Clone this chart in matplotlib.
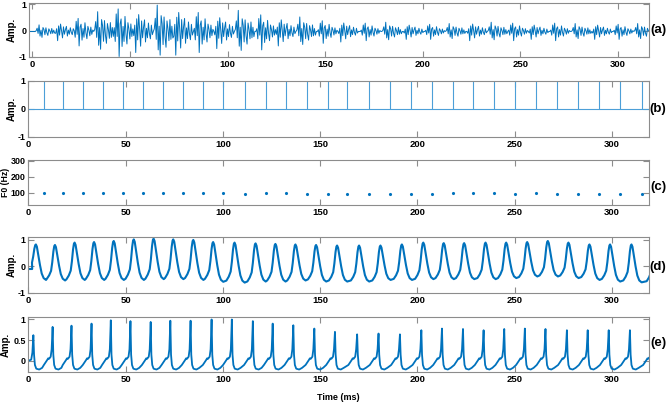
import numpy as np
import matplotlib.pyplot as plt
from matplotlib.ticker import FormatStrFormatter

plt.rcParams['font.family'] = ['Liberation Sans', 'DejaVu Sans']
plt.rcParams['font.weight'] = 'bold'
plt.rcParams['axes.unicode_minus'] = False

BLUE = '#0072BD'

# (b)/(c) pulse instants (ms) and F0 per pulse (Hz)
pulse_t = [8.0, 18.0, 28.3, 38.4, 48.5, 58.8, 69.3, 79.5, 89.8, 100.3,
           111.4, 122.0, 132.5, 143.1, 154.1, 164.0, 175.0, 185.8, 196.7, 207.4,
           218.2, 228.8, 239.5, 250.1, 260.9, 271.5, 282.3, 293.1, 304.1, 315.3]
f0_hz = [100, 98, 98, 98, 97, 97, 98, 95, 95, 95,
         93, 95, 97, 92, 93, 90, 92, 93, 93, 93,
         97, 95, 97, 93, 95, 93, 92, 93, 90, 90]

# (d) flow peaks: time, peak amp, following trough amp
d_peak_t = [3.9, 13.7, 23.8, 33.8, 43.9, 54.2, 64.4, 74.5, 84.8, 95.0,
            106.0, 116.8, 127.0, 137.3, 147.9, 158.7, 170.0, 181.0, 192.0, 203.0,
            213.5, 224.0, 235.0, 245.6, 256.4, 267.0, 277.6, 288.4, 299.0, 310.0]
d_peak_a = [0.82, 0.80, 0.89, 0.91, 0.95, 1.01, 1.04, 1.01, 0.99, 0.91,
            0.89, 0.86, 0.84, 0.82, 0.80, 0.78, 0.78, 0.78, 0.82, 0.89,
            0.87, 0.87, 0.89, 0.89, 0.91, 0.95, 0.89, 0.82, 0.82, 0.82]
d_trough = [-0.51, -0.53, -0.51, -0.51, -0.51, -0.51, -0.48, -0.48, -0.51, -0.58,
            -0.61, -0.57, -0.57, -0.53, -0.57, -0.57, -0.57, -0.51, -0.51, -0.48,
            -0.48, -0.48, -0.48, -0.44, -0.38, -0.38, -0.44, -0.51, -0.57, -0.60]
# shape of one cycle (offset ms, fraction between trough and peak)
d_fall = [(0.0, 1.0), (0.5, 0.94), (1.2, 0.72), (2.1, 0.42), (3.0, 0.18), (4.0, 0.05), (5.2, 0.0)]
d_rise = [(-4.2, 0.03), (-3.0, 0.13), (-2.0, 0.26), (-1.4, 0.5), (-0.8, 0.82), (-0.35, 0.97)]

# (e) derivative spikes: time and amplitude
e_peak_t = [2.6, 12.5, 22.2, 32.5, 42.4, 52.5, 62.9, 73.0, 83.4, 94.2,
            104.6, 115.4, 125.6, 136.2, 147.0, 157.6, 169.0, 180.0, 191.0, 202.0,
            212.6, 223.4, 234.0, 244.6, 255.2, 265.8, 276.8, 287.5, 298.3, 309.2]
e_peak_a = [0.62, 0.82, 0.85, 0.90, 0.98, 0.96, 0.94, 0.97, 0.97, 1.00,
            1.00, 0.96, 0.90, 0.86, 0.78, 0.70, 0.64, 0.66, 0.64, 0.74,
            0.78, 0.77, 0.74, 0.77, 0.78, 0.77, 0.74, 0.74, 0.74, 0.74]
e_after = [(0.35, 0.15), (0.8, -0.10), (1.5, -0.19), (3.0, -0.21), (4.5, -0.17)]
e_before = [(-4.5, -0.10), (-3.5, -0.03), (-2.8, 0.02), (-2.3, 0.06), (-1.8, 0.05),
            (-1.0, 0.10), (-0.5, 0.28)]

# (a) speech: burst amplitude and burst shape per cycle (shapes at 0.5 ms steps)
a_amp = [0.25, 0.35, 0.55, 0.75, 0.95, 0.80, 1.00, 0.90, 0.80, 0.65,
         0.80, 0.70, 0.55, 0.55, 0.45, 0.40, 0.35, 0.35, 0.30, 0.30,
         0.30, 0.35, 0.35, 0.35, 0.30, 0.35, 0.30, 0.30, 0.30, 0.30]
a_kind = [0, 1, 2, 0, 2, 1, 0, 1, 2, 1, 0, 2, 1, 0, 2,
          1, 2, 0, 1, 2, 0, 1, 0, 2, 1, 2, 0, 1, 2, 0]
a_shapes = [
    [0.1, 0.5, -0.3, 1.0, -0.7, 0.2, -0.9, 0.6, 0.3, -0.5,
     0.55, -0.2, -0.6, 0.4, 0.1, -0.35, 0.45, -0.3, 0.2, -0.25],
    [-0.2, 0.3, -1.0, 0.6, -0.4, 0.8, 0.1, -0.7, 0.5, -0.3,
     0.2, 0.55, -0.5, 0.15, -0.3, 0.4, -0.1, -0.35, 0.3, -0.15],
    [0.15, -0.4, 0.7, -0.2, 0.9, -1.0, 0.3, 0.5, -0.6, 0.2,
     -0.4, 0.6, -0.1, -0.5, 0.35, 0.1, -0.3, 0.3, -0.2, 0.1],
]
a_step = 0.5

# ---- build the traces from the values above ----
t_a = np.arange(-1.5, 316.0, a_step)
y_a = np.full(len(t_a), -0.03)
for t, a, k in zip(e_peak_t, a_amp, a_kind):
    i0 = int(round((t - 0.5 - t_a[0]) / a_step))
    seg = np.asarray(a_shapes[k]) * a
    n = min(len(seg), len(t_a) - i0)
    y_a[i0:i0 + n] += seg[:n]

d_t, d_v = [0.0, 2.0], [-0.1, -0.1]
for off, f in d_rise[2:]:
    d_t.append(d_peak_t[0] + off)
    d_v.append(-0.1 + (d_peak_a[0] + 0.1) * f)
for i, (p, a, m) in enumerate(zip(d_peak_t, d_peak_a, d_trough)):
    q = d_peak_t[i + 1] if i + 1 < len(d_peak_t) else 322.0
    a2 = d_peak_a[i + 1] if i + 1 < len(d_peak_a) else a
    for off, f in d_fall:
        d_t.append(p + off)
        d_v.append(m + (a - m) * f)
    for off, f in d_rise:
        d_t.append(q + off)
        d_v.append(m + (a2 - m) * f)

e_t, e_v = [0.0, 1.5, 2.1], [0.0, 0.03, 0.2]
for i, (s, a) in enumerate(zip(e_peak_t, e_peak_a)):
    q = e_peak_t[i + 1] if i + 1 < len(e_peak_t) else 320.5
    e_t.append(s)
    e_v.append(a)
    for off, v in e_after:
        e_t.append(s + off)
        e_v.append(v)
    for off, v in e_before:
        e_t.append(q + off)
        e_v.append(v)

# ---- figure ----
fig = plt.figure(figsize=(6.68, 4.03), dpi=100)
W, H = 668.0, 403.0
boxes = [(29.3, 3, 57), (28.3, 81, 137), (28.3, 160, 205), (28.3, 237, 293), (28.3, 317, 372)]
axs = []
for left, top, bot in boxes:
    axs.append(fig.add_axes([left / W, 1 - bot / H, (649 - left) / W, (bot - top) / H]))

axs[0].plot(t_a, y_a, color=BLUE, lw=0.7)
axs[0].set_xlim(-1.5, 315.8)
axs[0].set_ylim(-1, 1.05)
axs[0].set_yticks([-1, 0, 1])

axs[1].axhline(0, color='#4C9FD8', lw=0.8)
axs[1].vlines(pulse_t, 0, 1, color='#4C9FD8', lw=0.8)
axs[1].set_ylim(-1, 1)
axs[1].set_yticks([-1, 0, 1])

axs[2].plot(pulse_t, f0_hz, '.', color=BLUE, ms=2.5)
axs[2].set_ylim(22, 305)
axs[2].set_yticks([100, 200, 300])

axs[3].plot(d_t, d_v, color=BLUE, lw=1.5)
axs[3].set_ylim(-1, 1.1)
axs[3].set_yticks([-1, 0, 1])

axs[4].plot(e_t, e_v, color=BLUE, lw=1.3)
axs[4].set_ylim(-0.27, 1.06)
axs[4].set_yticks([0, 0.5, 1])
axs[4].yaxis.set_major_formatter(FormatStrFormatter('%g'))
axs[4].set_xlabel('Time (ms)', fontsize=6.5, fontweight='bold', labelpad=6)

ylabels = ['Amp.', 'Amp.', 'F0 (Hz)', 'Amp.', 'Amp.']
label_x = [11.5, 11.5, 6.0, 11.5, 6.0]
for ax, lab, lx, (left, top, bot) in zip(axs, ylabels, label_x, boxes):
    if ax is not axs[0]:
        ax.set_xlim(0, 319)
    ax.set_xticks([0, 50, 100, 150, 200, 250, 300])
    ax.set_ylabel(lab, fontsize=6.3 if lab.startswith('F0') else 7, fontweight='bold')
    ax.yaxis.label.set_va('center')
    ax.yaxis.set_label_coords((lx - left) / (649 - left), 0.5)
    ax.tick_params(direction='in', top=True, right=True, length=4, width=0.8,
                   color='0.55', labelsize=6.8, pad=2.5)
    ax.tick_params(axis='y', labelsize=6.4, pad=2)
    for sp in ax.spines.values():
        sp.set_color('0.55')
        sp.set_linewidth(0.8)

for lab, yc in zip(['(a)', '(b)', '(c)', '(d)', '(e)'], [30, 109, 187, 267, 343]):
    fig.text(658 / W, 1 - yc / H, lab, ha='center', va='center',
             fontsize=9.5, fontweight='bold')

fig.savefig('out.png', dpi=100)
